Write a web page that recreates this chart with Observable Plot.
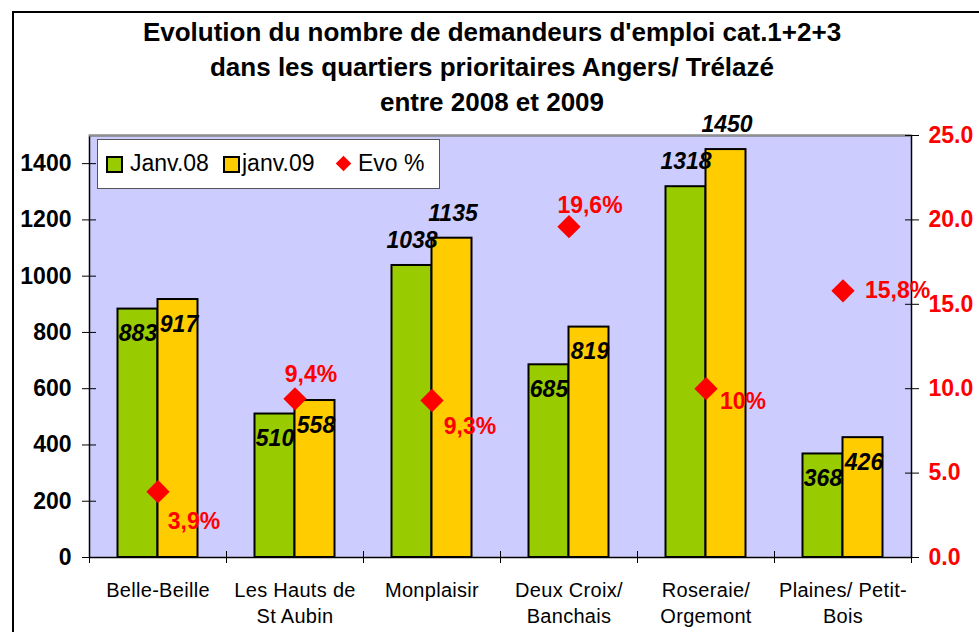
<!DOCTYPE html>
<html><head><meta charset="utf-8">
<script src="https://cdn.jsdelivr.net/npm/d3@7"></script>
<script src="https://cdn.jsdelivr.net/npm/@observablehq/plot@0.6"></script>
<style>
body{margin:0;background:#fff;font-family:"Liberation Sans",Arial,sans-serif;}
#wrap{position:relative;width:979px;height:632px;overflow:hidden;}
#border{position:absolute;left:12px;top:11px;width:1000px;height:700px;border-left:2px solid #000;border-top:2px solid #000;}
#title{position:absolute;left:0;width:984px;top:15px;text-align:center;font-weight:bold;font-size:26px;line-height:35px;color:#000;}
#chart{position:absolute;left:0;top:100px;}
#legend{position:absolute;left:97px;top:139px;width:341px;height:48px;background:#fff;border:1.5px solid #555;}
#legend .sw{position:absolute;top:16px;width:13px;height:13px;border:2px solid #000;}
#legend .lab{position:absolute;top:8px;font-size:23px;line-height:30px;color:#000;}
#legend .dia{position:absolute;top:18px;left:240px;width:11px;height:11px;background:#f00;transform:rotate(45deg);}
#chart g[aria-label="x-axis tick label"] text{letter-spacing:0.3px;}
</style></head>
<body>
<div id="wrap">
  <div id="border"></div>
  <div id="title">Evolution du nombre de demandeurs d'emploi cat.1+2+3<br>dans les quartiers prioritaires Angers/ Trélazé<br>entre 2008 et 2009</div>
  <div id="chart"></div>
  <div id="legend"></div>
</div>
<script>
const categories = ["Belle-Beille","Les Hauts de St Aubin","Monplaisir","Deux Croix/ Banchais","Roseraie/ Orgemont","Plaines/ Petit-Bois"];
const tickLabels = ["Belle-Beille","Les Hauts de\nSt Aubin","Monplaisir","Deux Croix/\nBanchais","Roseraie/\nOrgemont","Plaines/ Petit-\nBois"];
const janv08 = [883,510,1038,685,1318,368];
const janv09 = [917,558,1135,819,1450,426];
const evo = [3.9,9.4,9.3,19.6,10,15.8];
const leftTicks = [0,200,400,600,800,1000,1200,1400];
const rightTicks = [0,5,10,15,20,25];
const seriesNames = ["Janv.08","janv.09","Evo %"];

const K = 60; // right axis: 25 % <-> 1500
const rows = categories.map((c,i)=>({cat:c, v08:janv08[i], v09:janv09[i], evo:evo[i]}));
const fmtEvo = v => (Number.isInteger(v) ? String(v) : v.toFixed(1).replace(".", ",")) + "%";

// label offsets (style only)
const evoOffsets = [[36,30],[16,-24],[38,26],[21,-21],[37,13],[22,0]];

const font = '"Liberation Sans", Arial, sans-serif';
const GREEN = "#99CC00", YELLOW = "#FFCC00", RED = "#FF0000";

const valueText = (key, dx, above) => Plot.text(rows, {
  filter: d => above ? d[key] > 1000 : d[key] <= 1000,
  x: "cat", y: key, text: d => String(d[key]), dx, dy: above ? -25 : 25,
  fontSize: 23, fontWeight: "bold", fontStyle: "italic", fill: "#000"
});

const evoLabels = categories.map((c,i) => Plot.text(rows.filter(d => d.cat === c), {
  x: "cat", y: d => d.evo * K, text: d => fmtEvo(d.evo),
  dx: evoOffsets[i][0], dy: evoOffsets[i][1],
  textAnchor: i === 5 ? "start" : "middle",
  fontSize: 23, fontWeight: "bold", fill: RED
}));

const chart = Plot.plot({
  width: 979, height: 532,
  marginLeft: 89, marginRight: 68, marginTop: 35, marginBottom: 75,
  style: {fontFamily: font, background: "transparent", overflow: "visible", color: "#000"},
  x: {domain: categories, padding: 0},
  y: {domain: [0, 1500]},
  marks: [
    Plot.frame({fill: "#CCCCFF", stroke: "#000", strokeWidth: 1.5}),
    Plot.ruleY([1500], {stroke: "#909090", strokeWidth: 2}),
    Plot.rectY(rows, {x: "cat", y: "v08", fill: GREEN, stroke: "#000", strokeWidth: 2, insetLeft: 28.5, insetRight: 68.5}),
    Plot.rectY(rows, {x: "cat", y: "v09", fill: YELLOW, stroke: "#000", strokeWidth: 2, insetLeft: 68.5, insetRight: 28.5}),
    Plot.ruleX(categories, {x: d => d, dx: -68.5, y1: 0, y2: 0, insetTop: -6, insetBottom: -6, stroke: "#000"}),
    Plot.ruleX([categories[categories.length-1]], {x: d => d, dx: 68.5, y1: 0, y2: 0, insetTop: -6, insetBottom: -6, stroke: "#000"}),
    Plot.axisX({anchor: "bottom", tickSize: 0, tickPadding: 21, fontSize: 20, lineHeight: 1.3, label: null,
      tickFormat: d => tickLabels[categories.indexOf(d)]}),
    Plot.axisY(leftTicks, {anchor: "left", tickSize: 14, dx: 7, tickPadding: 11, fontSize: 23, fontWeight: "bold", label: null,
      tickFormat: d => String(d), stroke: "#000", fill: "#000"}),
    Plot.axisY(rightTicks.map(v => v * K), {anchor: "right", tickSize: 14, dx: -7, tickPadding: 10, fontSize: 23, fontWeight: "bold", label: null,
      tickFormat: d => (d / K).toFixed(1), stroke: "#000", fill: RED}),
    valueText("v08", -20, false),
    valueText("v08", -20, true),
    valueText("v09", 21, false),
    valueText("v09", 21, true),
    Plot.dot(rows, {x: "cat", y: d => d.evo * K, symbol: "diamond2", r: 10.5, fill: RED, stroke: null}),
    ...evoLabels
  ]
});
document.getElementById("chart").appendChild(chart);

// legend
const lg = document.getElementById("legend");
lg.innerHTML =
  `<div class="sw" style="left:8px;background:${GREEN}"></div>` +
  `<div class="lab" style="left:32px">${seriesNames[0]}</div>` +
  `<div class="sw" style="left:125px;background:${YELLOW}"></div>` +
  `<div class="lab" style="left:144px">${seriesNames[1]}</div>` +
  `<div class="dia"></div>` +
  `<div class="lab" style="left:260px">${seriesNames[2]}</div>`;
</script>
</body></html>
